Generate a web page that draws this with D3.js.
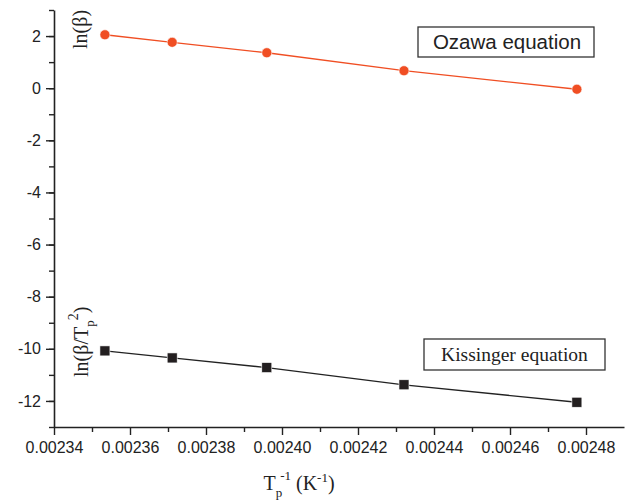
<!DOCTYPE html>
<html lang="en">
<head>
    <script src='https://d3js.org/d3.v7.min.js'></script>
    <title>Ozawa and Kissinger plots</title>
    <style>
      body { margin: 0; background: #fff; }
    </style>
</head>
<body>
  <script>
    // inverse peak temperature (1/K)
    var invTp = [0.0023534, 0.0023711, 0.0023960, 0.0024321, 0.0024776];
    // ln(beta) - Ozawa
    var ozawa = [2.05, 1.76, 1.36, 0.67, -0.04];
    // ln(beta/Tp^2) - Kissinger
    var kissinger = [-10.08, -10.35, -10.72, -11.38, -12.05];
    var xTicks = [0.00234, 0.00236, 0.00238, 0.00240, 0.00242, 0.00244, 0.00246, 0.00248];
    var yTicks = [2, 0, -2, -4, -6, -8, -10, -12];

    var width = 630, height = 504;

    var svg = d3.select('body')
      .append('svg')
      .attr('width', width)
      .attr('height', height);

    var x = d3.scaleLinear().domain([0.00234, 0.00249]).range([54, 624]);
    var y = d3.scaleLinear().domain([-13, 3]).range([427, 10]);

    // x axis, minor then major ticks
    svg.append('g')
      .attr('transform', 'translate(0,427)')
      .call(d3.axisBottom(x).tickValues(d3.range(0.00235, 0.00249, 0.00002)).tickSize(5).tickFormat(''))
      .call(function(g) { g.select('.domain').remove(); });

    svg.append('g')
      .attr('transform', 'translate(0,427)')
      .call(d3.axisBottom(x).tickValues(xTicks).tickSize(8).tickSizeOuter(0).tickPadding(7)
        .tickFormat(d3.format('.5f')));

    // y axis
    svg.append('g')
      .attr('transform', 'translate(54,0)')
      .call(d3.axisLeft(y).tickValues(d3.range(-13, 4, 1)).tickSize(5).tickFormat(''))
      .call(function(g) { g.select('.domain').remove(); });

    svg.append('g')
      .attr('transform', 'translate(54,0)')
      .call(d3.axisLeft(y).tickValues(yTicks).tickSize(8).tickSizeOuter(0).tickPadding(5)
        .tickFormat(function(d) { return String(d); }));

    svg.selectAll('.domain').attr('stroke', '#222').attr('stroke-width', 1.6);
    svg.selectAll('.tick line').attr('stroke', '#222').attr('stroke-width', 1.4);
    svg.selectAll('.tick text')
      .attr('font-family', 'Liberation Sans, Arial, sans-serif')
      .attr('font-size', 16)
      .attr('fill', '#222');

    // lines
    var line = d3.line()
      .x(function(d) { return x(d[0]); })
      .y(function(d) { return y(d[1]); });

    var ozPts = d3.zip(invTp, ozawa);
    var kiPts = d3.zip(invTp, kissinger);

    svg.append('path')
      .datum(ozPts)
      .attr('d', line)
      .attr('fill', 'none')
      .attr('stroke', '#f04e23')
      .attr('stroke-width', 1.3);

    svg.append('path')
      .datum(kiPts)
      .attr('d', line)
      .attr('fill', 'none')
      .attr('stroke', '#222')
      .attr('stroke-width', 1.3);

    svg.selectAll('circle.oz')
      .data(ozPts)
      .join('circle')
      .attr('class', 'oz')
      .attr('cx', function(d) { return x(d[0]); })
      .attr('cy', function(d) { return y(d[1]); })
      .attr('r', 5)
      .attr('fill', '#f04e23')
      .attr('stroke', '#fff')
      .attr('stroke-width', 0.6);

    svg.selectAll('rect.ki')
      .data(kiPts)
      .join('rect')
      .attr('class', 'ki')
      .attr('x', function(d) { return x(d[0]) - 5; })
      .attr('y', function(d) { return y(d[1]) - 5; })
      .attr('width', 10)
      .attr('height', 10)
      .attr('fill', '#231f20')
      .attr('stroke', '#fff')
      .attr('stroke-width', 0.6);

    var serif = 'Liberation Serif, Times New Roman, serif';

    // y labels
    svg.append('text')
      .attr('transform', 'translate(87,49) rotate(-90)')
      .attr('font-family', serif)
      .attr('font-size', 20)
      .attr('fill', '#222')
      .text('ln(β)');

    var kl = svg.append('text')
      .attr('transform', 'translate(88,377) rotate(-90)')
      .attr('font-family', serif)
      .attr('font-size', 20)
      .attr('fill', '#222');
    kl.append('tspan').text('ln(β/T');
    kl.append('tspan').attr('font-size', 13).attr('dy', 6).text('p');
    kl.append('tspan').attr('font-size', 14).attr('dy', -16).text('2');
    kl.append('tspan').attr('dy', 10).text(')');

    // x label
    var xl = svg.append('text')
      .attr('x', 299)
      .attr('y', 490)
      .attr('text-anchor', 'middle')
      .attr('font-family', serif)
      .attr('font-size', 20)
      .attr('fill', '#222');
    xl.append('tspan').text('T');
    xl.append('tspan').attr('font-size', 13).attr('dy', 7).text('p');
    xl.append('tspan').attr('font-size', 13).attr('dx', -2).attr('dy', -17).text('-1');
    xl.append('tspan').attr('dy', 10).text(' (K');
    xl.append('tspan').attr('font-size', 13).attr('dy', -8).text('-1');
    xl.append('tspan').attr('dy', 8).text(')');

    // annotation boxes
    svg.append('rect')
      .attr('x', 418).attr('y', 27).attr('width', 176).attr('height', 30)
      .attr('fill', '#fff').attr('stroke', '#333').attr('stroke-width', 1.3);
    svg.append('text')
      .attr('x', 507).attr('y', 49)
      .attr('text-anchor', 'middle')
      .attr('font-family', 'Liberation Sans, Arial, sans-serif')
      .attr('font-size', 20.5)
      .attr('fill', '#222')
      .text('Ozawa equation');

    svg.append('rect')
      .attr('x', 424).attr('y', 339).attr('width', 181).attr('height', 31)
      .attr('fill', '#fff').attr('stroke', '#333').attr('stroke-width', 1.3);
    svg.append('text')
      .attr('x', 514.5).attr('y', 361)
      .attr('text-anchor', 'middle')
      .attr('font-family', serif)
      .attr('font-size', 19.5)
      .attr('fill', '#222')
      .text('Kissinger equation');
  </script>
</body>
</html>
